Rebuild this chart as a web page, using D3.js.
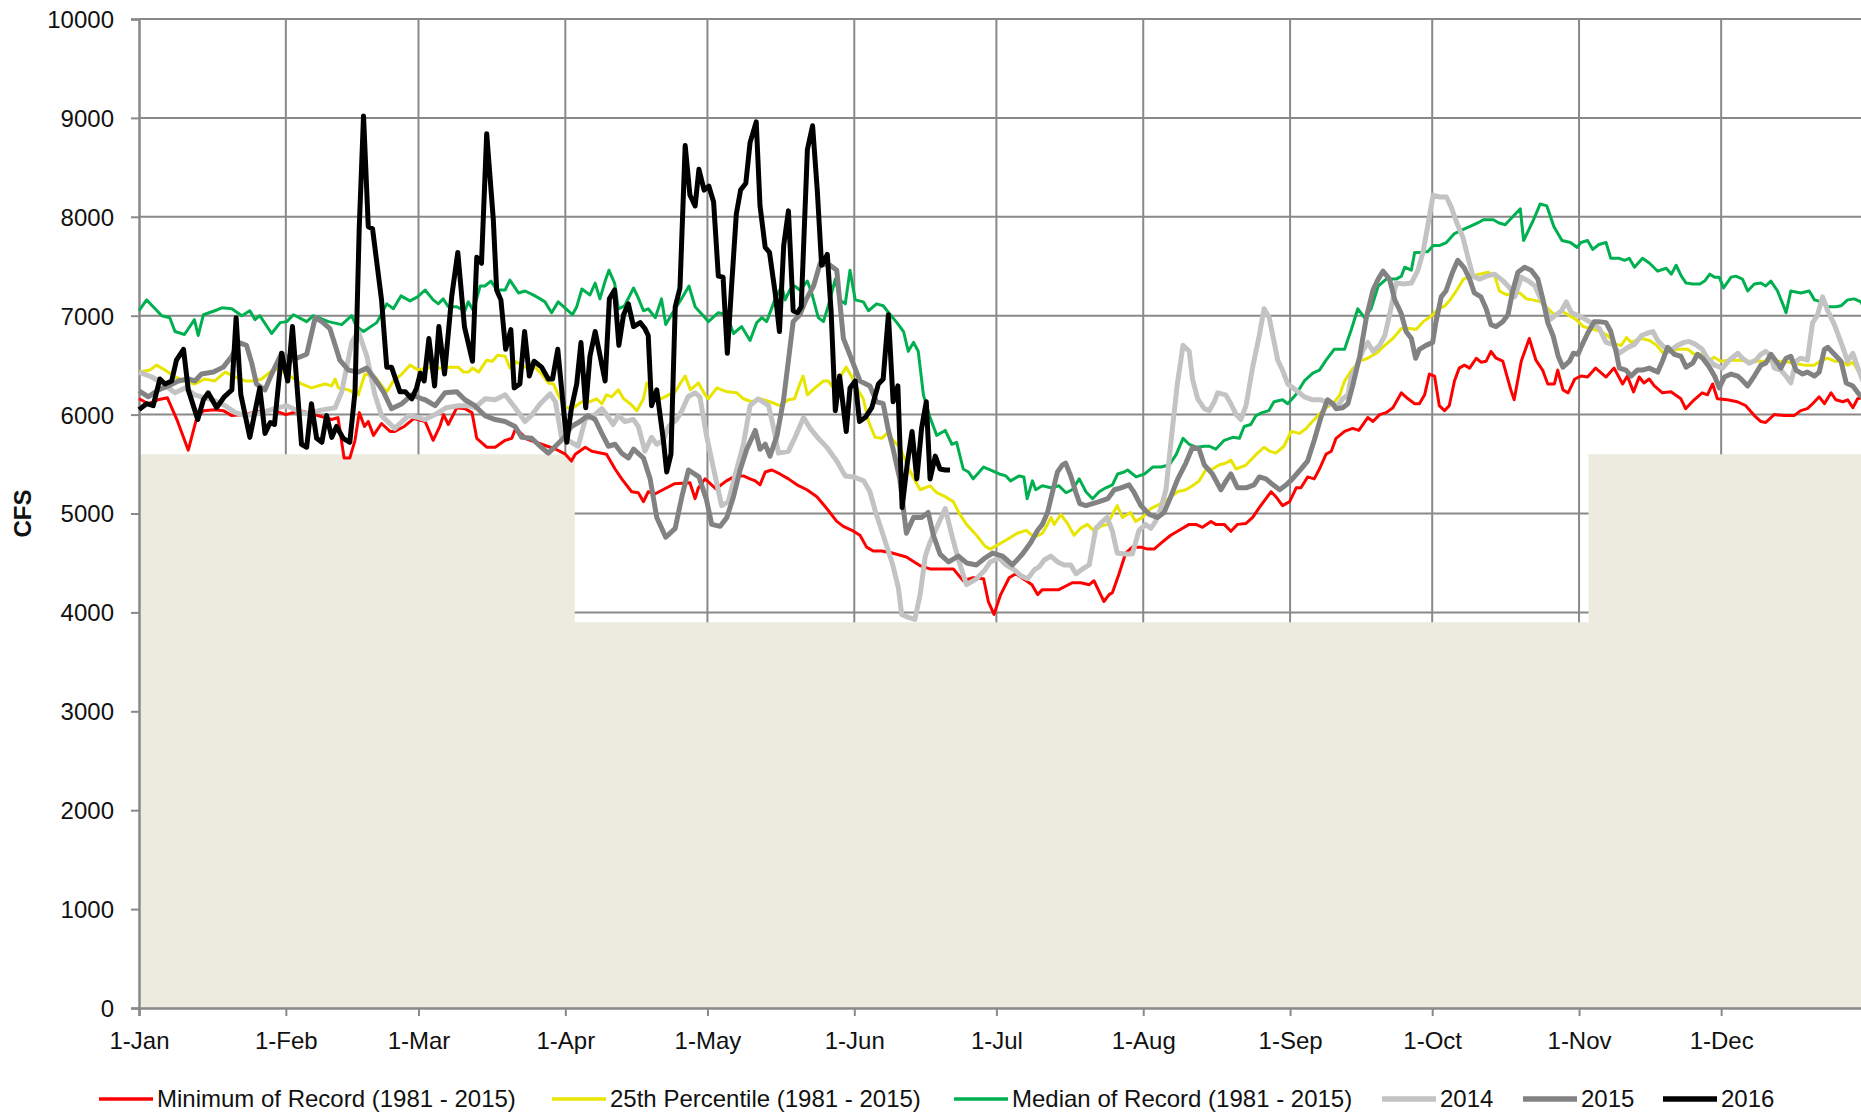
<!DOCTYPE html>
<html>
<head>
<meta charset="utf-8">
<script src="https://cdn.jsdelivr.net/npm/d3@7"></script>
<style>
  body { margin: 0; background: #fff; }
  svg text { font-family: "Liberation Sans", Arial, sans-serif; fill: #111; }
</style>
</head>
<body>
<div id="chart"></div>
<script>
// Daily flow (CFS) as [day of year, cfs] (day 0 = 1-Jan)
const minRecord = [[0,6160],[2,6110],[4,6150],[6,6170],[8,5950],[10.4,5640],[12.2,5970],[13.6,6040],[16,6050],[17.8,6040],[19.6,5990],[22,6000],[25,6030],[28,6050],[31,6000],[34,6040],[37,6000],[40.7,5950],[42,5970],[43.3,5560],[44.5,5560],[45.6,5740],[46.5,6020],[47.6,5880],[48.4,5930],[49.5,5790],[51.2,5910],[53,5830],[54,5830],[56,5880],[58,5960],[60.4,5930],[62.1,5740],[63.5,5880],[64.3,6000],[65.3,5900],[67.1,6070],[68.8,6060],[70.3,6020],[71.3,5760],[73.4,5670],[75.2,5670],[77.3,5740],[78.7,5760],[79.5,5860],[82,5750],[85,5700],[88,5650],[90,5600],[91.3,5530],[92.1,5600],[94.2,5670],[95.6,5630],[98.7,5600],[100.5,5450],[101.9,5350],[104,5220],[105.4,5210],[106.5,5120],[107.5,5220],[109,5200],[111,5250],[113,5300],[116.3,5310],[117.4,5150],[118.1,5260],[119.5,5350],[121.8,5250],[124,5330],[126,5380],[127.6,5380],[129,5350],[130.1,5330],[131.1,5290],[132.2,5420],[133.6,5440],[135.3,5400],[137.1,5350],[138.9,5290],[141,5240],[143.1,5170],[145.2,5050],[147.3,4920],[148.7,4870],[150.5,4830],[152.2,4780],[153.6,4660],[155,4620],[156.8,4620],[159,4600],[162,4560],[165,4470],[167,4440],[169.1,4440],[171.9,4440],[174,4320],[176.1,4350],[178.3,4340],[179.3,4110],[180.5,3980],[181.9,4180],[183.7,4350],[185.1,4390],[187.3,4320],[188.5,4280],[189.7,4180],[190.7,4230],[194.2,4230],[197,4300],[198.8,4300],[200.6,4280],[201.6,4320],[202.7,4210],[203.7,4110],[204.8,4180],[205.5,4200],[206.9,4390],[208.3,4600],[209.7,4660],[211.5,4660],[212.9,4640],[214.3,4640],[216,4710],[217.8,4780],[219.6,4830],[221.7,4890],[223.1,4890],[224.5,4860],[226.3,4920],[227.3,4890],[229.1,4890],[230.5,4820],[231.9,4890],[233.7,4900],[235.1,4960],[236.5,5060],[237.9,5150],[239,5220],[240,5170],[241.4,5080],[242.9,5120],[244.3,5260],[245.3,5260],[246.7,5370],[248.1,5350],[249.2,5450],[250.6,5600],[251.7,5630],[252.7,5760],[254.5,5830],[256.2,5860],[257.5,5840],[259.4,5970],[260.5,5930],[261.9,6000],[263.3,6020],[264.7,6070],[266.5,6220],[267.9,6160],[269.3,6110],[270.3,6110],[271.4,6200],[272.4,6410],[273.5,6390],[274.5,6090],[275.6,6040],[276.6,6090],[277.7,6340],[278.7,6470],[279.8,6500],[280.9,6470],[282.3,6570],[283.3,6530],[284.4,6540],[285.4,6640],[286.5,6570],[287.9,6540],[289.6,6250],[290.3,6150],[291.8,6540],[293.5,6770],[294.9,6550],[296.3,6450],[297.4,6310],[298.8,6310],[299.5,6450],[300.6,6250],[301.7,6220],[303.1,6360],[304.4,6390],[305.8,6380],[307.5,6470],[309.7,6380],[311.4,6470],[313.2,6310],[314.2,6390],[315.5,6230],[316.7,6380],[317.7,6320],[318.8,6360],[319.9,6290],[321.6,6220],[323.4,6230],[325.5,6160],[326.5,6060],[328.3,6150],[330,6220],[331.1,6200],[332.2,6310],[333.2,6160],[335.3,6150],[337.4,6130],[339.2,6090],[341,5990],[342.4,5930],[343.4,5920],[345.2,6000],[347.3,5990],[349.4,5990],[350.8,6040],[352.2,6060],[353.3,6110],[354.7,6180],[355.8,6110],[357.2,6220],[358.2,6150],[359.7,6130],[360.7,6150],[361.8,6070],[362.8,6160],[364.4,6180]];

const pct25 = [[0,6430],[2.3,6450],[3.7,6500],[5.5,6450],[7.6,6380],[9.7,6340],[11.8,6310],[13.9,6360],[16,6340],[18.2,6430],[20.3,6380],[22.4,6340],[24.1,6340],[25.9,6360],[28.7,6470],[31,6420],[34.3,6310],[36.4,6270],[39.3,6310],[40.7,6290],[41.4,6360],[42.1,6270],[44.2,6250],[46.3,6200],[47.7,6410],[49.8,6380],[52.3,6230],[53.7,6340],[55.5,6410],[57.2,6500],[59,6450],[60.4,6470],[62.1,6470],[63.5,6470],[65.3,6480],[67.4,6480],[68.5,6430],[69.6,6430],[70.4,6470],[71.7,6430],[73.4,6550],[74.6,6540],[75.7,6600],[77.3,6590],[78.3,6470],[79.4,6540],[81.5,6480],[83.6,6480],[85,6410],[86.4,6320],[87.5,6310],[88.5,6200],[89.9,6070],[91.7,6070],[93.5,6130],[95.2,6130],[96.6,6160],[97.7,6110],[98.7,6200],[99.8,6180],[101.2,6250],[102.3,6160],[103.7,6110],[105.1,6040],[106.5,6160],[107.2,6320],[108.6,6220],[110.3,6160],[111.8,6200],[113.2,6230],[114.2,6310],[115.3,6390],[116.4,6250],[118.1,6320],[119.5,6200],[120.2,6160],[122,6270],[124.1,6230],[126.2,6220],[127.6,6160],[129.3,6130],[131.1,6160],[133.2,6130],[135.3,6090],[137.1,6150],[138.4,6160],[139.5,6310],[140.2,6390],[141.1,6200],[142.7,6270],[144.5,6340],[145.5,6340],[146.6,6270],[148,6380],[149.3,6480],[150.5,6380],[151.5,6270],[152.9,6160],[154,5930],[155.4,5770],[156.8,5760],[157.9,5810],[159.2,5740],[160.6,5670],[162.5,5450],[164.9,5240],[167,5280],[168.4,5210],[170.2,5170],[171.9,5120],[173.3,4990],[174.7,4890],[176.8,4780],[178.6,4670],[179.7,4640],[183,4730],[185.4,4800],[187.3,4830],[189,4760],[190.7,4800],[191.8,4890],[192.5,4960],[193.2,4890],[194.6,4990],[196,4900],[197.4,4780],[198.8,4850],[200.2,4890],[201.7,4820],[203,4870],[204.4,4890],[206.5,5080],[207.6,4960],[209.3,5010],[210.4,4920],[211.8,4960],[213.6,5050],[215.7,5100],[217.5,5150],[219.2,5220],[221,5240],[222.4,5280],[223.8,5330],[225.2,5440],[226.6,5450],[228,5490],[229.5,5510],[230.5,5540],[231.6,5450],[233.7,5490],[235.9,5600],[237.5,5670],[238.7,5630],[240,5610],[241.7,5680],[243.2,5830],[245,5810],[246.4,5860],[247.5,5920],[248.9,5990],[250.6,6070],[252.1,6110],[253.5,6200],[254.5,6340],[256,6450],[257.7,6540],[259.4,6570],[261.2,6620],[263,6700],[264.7,6770],[266.5,6870],[268.3,6870],[269.6,6860],[271.1,6940],[272.9,7000],[274.3,7070],[275.7,7100],[276.8,7160],[278.2,7260],[279.6,7370],[281.2,7400],[283,7420],[284.8,7440],[286.2,7400],[287.2,7250],[288.7,7210],[290.1,7230],[291.5,7230],[292.9,7170],[294.2,7160],[296,7140],[297.5,7070],[298.8,7010],[300.3,7050],[302,7000],[303.4,6960],[304.9,6890],[306.5,6870],[308.6,6840],[310,6800],[311.8,6710],[312.9,6700],[314,6780],[315,6730],[317.2,6770],[318.9,6750],[320.4,6700],[321.8,6620],[323.5,6640],[324.9,6660],[327,6660],[328.3,6610],[330,6610],[331.5,6550],[332.5,6580],[333.9,6540],[335.7,6550],[337.8,6550],[339.6,6540],[341.3,6540],[343.1,6540],[345.2,6540],[347.3,6540],[349.5,6520],[351.6,6500],[353.7,6500],[355.1,6550],[356.5,6570],[357.9,6540],[359.3,6540],[360.7,6500],[361.8,6530],[362.8,6450],[364.4,6390]];

const medianRecord = [[0,7050],[1.6,7160],[3.4,7070],[4.8,7000],[6.5,6980],[7.6,6840],[9.6,6810],[11.7,6960],[12.5,6800],[13.6,7010],[16,7050],[17.5,7080],[19.6,7070],[21.7,7000],[23.4,7050],[24.5,6960],[25.5,7000],[28,6820],[29.8,6930],[31.2,6940],[32.6,7010],[35.4,6940],[36.8,7000],[40,6940],[42.8,6910],[44.9,7000],[45.9,6890],[47.4,6840],[50.2,6930],[52.3,7120],[53.7,7070],[55.3,7200],[57.2,7150],[58.8,7190],[60.4,7260],[62.1,7160],[63.2,7120],[64.2,7170],[65.3,7090],[67.1,7090],[68.8,7050],[69.5,7140],[70.6,7050],[72,7300],[73,7300],[74.3,7350],[75.5,7260],[77.3,7260],[78.3,7360],[80.1,7230],[81.5,7250],[83.2,7210],[84.7,7170],[85.7,7140],[87.1,7030],[88.5,7140],[91.5,7010],[92.4,7090],[93.5,7270],[95.2,7210],[96.3,7330],[97.3,7170],[98.4,7350],[99.2,7460],[100.4,7330],[101.2,7070],[102.5,7100],[104.4,7280],[105.3,7190],[106.5,7050],[107.5,7070],[109,6980],[110.3,7170],[111.2,6910],[112.4,7010],[114.5,7170],[116.1,7300],[117.4,7090],[119.5,6980],[120.2,6940],[122.3,7030],[124.1,7010],[125.5,6820],[127.2,6890],[129,6750],[130.4,6930],[131.5,6980],[132.5,6940],[134.3,7170],[135.7,7300],[136.4,7160],[137.4,7260],[138.4,7300],[139.5,7260],[141.1,7350],[142,7230],[143.4,6980],[144.5,6940],[145.5,7100],[147,7370],[148,7160],[149.1,7120],[150.1,7460],[151.2,7160],[152.9,7140],[154,7050],[155.7,7120],[157.1,7100],[158.6,7010],[160,6930],[161.4,6840],[162.4,6640],[163.5,6730],[164.5,6640],[165.6,6200],[167,5970],[168.4,5790],[170.2,5840],[171.6,5700],[172.6,5720],[174,5450],[175.1,5420],[176.1,5350],[178.3,5470],[179.7,5440],[181.6,5400],[183,5380],[184,5330],[185.8,5380],[186.8,5370],[187.5,5150],[188.6,5330],[189.3,5240],[190.7,5280],[192.5,5260],[194.2,5280],[195.7,5210],[197,5240],[198.5,5350],[199.9,5220],[201.3,5150],[202.7,5220],[204.1,5260],[205.5,5290],[206.6,5400],[208,5420],[208.7,5440],[210.5,5370],[212.3,5400],[214,5470],[215.7,5470],[217.5,5490],[219,5600],[220.4,5760],[221.7,5700],[223.2,5670],[224.9,5680],[226,5680],[227.3,5650],[229.1,5740],[230.9,5770],[232.3,5760],[233.3,5880],[234.7,5900],[235.8,5990],[237.1,6020],[238.5,6040],[239.6,6130],[241.4,6150],[242.5,6110],[244.2,6200],[246,6340],[247.8,6420],[249.2,6450],[250.6,6550],[252.3,6660],[254.5,6660],[256,6870],[257.3,7070],[258.7,6980],[260.1,7070],[261.6,7300],[263.3,7370],[265.4,7370],[266.5,7400],[267.2,7490],[268.6,7460],[269.3,7640],[270.4,7640],[272.1,7650],[273.2,7710],[274.6,7710],[276,7740],[277.7,7830],[279.9,7880],[280.9,7900],[282.7,7940],[283.8,7970],[285.9,7970],[287,7940],[288.4,7920],[290.2,8010],[291.6,8080],[292.3,7760],[294.4,7970],[295.8,8130],[297.2,8110],[298.7,7900],[300.4,7760],[302.2,7740],[303.6,7690],[304.4,7740],[305.8,7760],[306.9,7670],[308.2,7720],[309.7,7740],[310.7,7580],[312.5,7580],[313.6,7560],[314.6,7580],[315.7,7490],[317.4,7580],[318.9,7530],[320.6,7450],[322.4,7480],[323.5,7420],[324.5,7510],[325.6,7400],[326.6,7330],[328,7320],[329.5,7320],[330.5,7350],[331.6,7420],[332.6,7390],[333.6,7390],[334.5,7280],[336.1,7390],[337.1,7400],[338.5,7370],[339.6,7250],[341,7320],[342.4,7330],[343.4,7300],[344.5,7350],[345.9,7250],[347,7120],[347.7,7030],[348.7,7250],[350.8,7230],[352.6,7250],[353.7,7160],[355.1,7140],[356.5,7090],[358.2,7090],[359.3,7100],[360.7,7160],[362.1,7170],[363.5,7140],[364.4,7050]];

const flow2014 = [[0,6430],[2.7,6380],[4.8,6320],[7.6,6220],[9.7,6270],[11.8,6200],[13.2,6180],[15.5,6150],[18.2,6090],[20.3,6020],[22.4,5990],[25.9,6020],[28.7,6060],[31.2,6090],[33,6050],[35,6010],[37,6030],[39,6050],[41.4,6070],[42.8,6230],[44.9,6730],[46.3,6840],[48.1,6590],[49.8,6200],[51.2,5990],[54,5860],[56.9,5990],[59,5970],[60.4,5950],[62.5,6000],[64.9,6070],[67.4,6090],[69.5,6090],[70.9,6070],[73.1,6160],[75.2,6150],[77.3,6200],[79.4,6070],[81.5,5930],[83,6000],[84.7,6110],[86.8,6210],[87.9,6130],[89.2,5770],[91.3,5720],[92.7,5680],[94.2,5950],[96,5990],[97.7,6060],[98.7,6000],[100.1,5900],[101.2,5990],[102.6,5930],[104.4,5950],[105.4,5880],[106.8,5630],[108.2,5770],[109.3,5700],[110.7,5740],[111.8,5880],[113.5,5950],[114.6,6040],[115.9,6180],[117.4,6220],[118.4,6180],[119.8,5790],[121.3,5450],[123,5080],[124.4,5120],[126.2,5450],[127.6,5700],[129,6090],[130.7,6160],[132.9,6090],[133.9,5880],[135,5610],[137.1,5630],[138.5,5770],[140.3,5970],[141.7,5860],[143.4,5760],[145.2,5670],[147.3,5530],[149.1,5380],[150.9,5370],[153,5330],[154.3,5220],[155.4,5030],[157.1,4780],[159,4500],[160.3,4250],[161,3980],[162.4,3950],[163.8,3930],[164.9,4180],[166,4570],[167,4710],[168.8,4900],[170.2,5050],[171.6,4780],[173,4530],[174.7,4280],[176.8,4340],[178.6,4430],[179.7,4510],[181.6,4550],[183,4480],[184.8,4430],[186.2,4370],[187.6,4340],[189,4430],[190,4460],[191.1,4530],[192.5,4570],[193.9,4510],[195.3,4480],[196.7,4480],[197.8,4390],[199.2,4440],[200.6,4480],[202,4850],[203.4,4920],[204.4,4960],[205.5,4820],[206.5,4600],[207.9,4590],[209.7,4590],[211.1,4830],[212.5,4890],[213.6,4850],[214.6,4920],[215.7,5050],[216.8,5240],[218.2,5880],[219.2,6310],[220.4,6700],[221.7,6640],[222.4,6360],[223.5,6160],[224.9,6060],[225.9,6040],[227,6130],[227.7,6220],[229.4,6200],[230.5,6110],[231.6,6000],[232.6,5950],[233.7,6090],[235.1,6480],[236.5,6800],[237.5,7070],[238.6,6980],[240.4,6550],[241.4,6450],[242.5,6310],[244.2,6250],[246,6180],[247.8,6150],[249.5,6150],[251.3,6110],[253.1,6090],[254.1,6160],[255.2,6200],[255.9,6380],[257,6480],[258.3,6640],[259.4,6730],[260.5,6640],[261.9,6700],[263,6800],[264,7010],[265.4,7330],[266.9,7320],[268.6,7330],[270,7460],[271.1,7650],[272.1,7920],[273.2,8220],[274.6,8200],[276,8200],[277,8100],[278.1,7950],[279.5,7790],[280.6,7580],[281.6,7400],[283,7370],[284.5,7400],[286.2,7420],[288,7350],[289.4,7280],[290.4,7190],[291.8,7390],[293.3,7350],[294.7,7300],[295.7,7190],[296.8,7090],[297.8,6960],[298.9,7000],[300.3,7050],[301.3,7140],[302.4,7030],[303.4,7010],[304.7,6980],[306.5,6930],[308.3,6870],[309.7,6730],[311.1,6710],[312.5,6620],[314.3,6680],[315.7,6710],[317.2,6800],[318.2,6820],[319.6,6840],[320.6,6750],[321.6,6700],[323,6640],[324.8,6700],[326.2,6730],[327.2,6740],[328.6,6710],[330,6660],[331.1,6570],[332.6,6500],[334.3,6470],[335.7,6550],[337.5,6620],[338.5,6570],[339.9,6520],[341.3,6550],[342.4,6610],[343.4,6640],[344.5,6590],[345.2,6470],[346.6,6450],[347.7,6390],[348.7,6320],[349.8,6540],[350.8,6570],[352.2,6550],[353.3,6930],[354.3,7000],[355.4,7190],[356.5,7050],[357.9,6910],[359.3,6730],[360.7,6540],[361.8,6620],[362.8,6480],[363.9,6340],[364.4,6320]];

const flow2015 = [[0,6240],[2,6180],[4.1,6250],[6.2,6290],[8.3,6340],[10.4,6360],[11.8,6340],[13.2,6410],[15.7,6430],[17.8,6480],[19.6,6590],[21,6730],[22.7,6700],[23.8,6520],[24.8,6310],[26.6,6250],[28,6410],[30.1,6620],[32.2,6550],[35.4,6610],[37.2,6980],[38.6,6940],[40.3,6870],[42.4,6550],[44.2,6450],[46.3,6430],[48.1,6470],[49.8,6360],[51.6,6230],[53.3,6060],[55.5,6110],[57.6,6200],[59.7,6160],[60.4,6150],[62.5,6090],[64.6,6220],[67.1,6230],[68.8,6150],[70.9,6090],[73,5990],[75.2,5950],[77.3,5930],[79.4,5880],[80.8,5770],[82.9,5760],[84.7,5680],[86.4,5610],[87.9,5680],[89.6,5760],[91.3,5880],[93.1,5930],[94.8,5990],[96.3,5950],[97.7,5810],[99.1,5680],[100.5,5700],[101.9,5610],[103.3,5560],[104.4,5650],[106.5,5560],[107.9,5350],[109.3,4960],[111.2,4760],[113.2,4850],[114.6,5170],[116,5440],[118.2,5370],[119.8,5140],[120.9,4890],[122.7,4870],[124.1,4960],[125.5,5170],[126.9,5440],[128.3,5650],[130.1,5840],[131.1,5650],[132.2,5700],[133.2,5580],[134.7,5790],[136.1,6160],[137.1,6550],[138.1,6940],[139.5,7010],[140.9,7170],[142.4,7300],[143.8,7530],[145.9,7510],[147.3,7460],[148.7,6770],[150.5,6550],[152.2,6340],[154.3,6290],[155.7,6130],[157.1,6110],[158.2,5840],[159.2,5650],[160.6,5350],[162,4800],[163.5,4960],[165.2,4960],[166.6,5010],[167.7,4780],[169.1,4590],[170.9,4510],[173,4570],[174.7,4500],[176.8,4480],[178.6,4550],[180.2,4600],[182.3,4570],[184.4,4480],[186.5,4590],[188.3,4710],[189.7,4830],[190.7,4890],[191.8,5010],[192.8,5210],[193.9,5420],[194.9,5490],[195.6,5510],[196.7,5380],[197.8,5210],[198.6,5100],[199.9,5080],[201.3,5100],[202.7,5120],[204.5,5150],[205.9,5240],[207.3,5260],[209,5290],[210.1,5210],[211.5,5080],[213.3,4990],[215,4960],[216.4,5010],[217.8,5170],[219.3,5350],[221,5510],[222.4,5670],[223.8,5650],[224.9,5490],[226.6,5400],[228.4,5240],[229.5,5330],[230.5,5400],[231.9,5260],[233.7,5260],[235.4,5290],[236.5,5370],[237.9,5350],[239.4,5290],[240.8,5240],[242.2,5290],[243.5,5350],[245.3,5450],[246.7,5530],[248.1,5740],[249.5,5970],[250.9,6150],[252,6110],[252.7,6060],[254.1,6070],[255.2,6110],[256.2,6290],[257.7,6590],[259.1,6980],[260.5,7260],[261.6,7370],[262.6,7450],[264,7370],[265.1,7160],[266.4,7030],[267.5,6840],[268.6,6770],[269.5,6570],[270.3,6660],[271.7,6700],[273.1,6730],[273.8,6940],[274.9,7190],[275.9,7250],[277.3,7440],[278.4,7560],[279.8,7480],[280.9,7370],[281.9,7230],[283.3,7190],[284.4,7070],[285.4,6910],[286.5,6890],[287.9,6940],[289,7010],[290,7250],[291.1,7440],[292.5,7490],[293.9,7460],[295.3,7370],[296.4,7160],[297.4,6930],[298.5,6800],[299.6,6590],[300.6,6480],[302,6540],[302.8,6620],[303.8,6610],[304.4,6680],[305.8,6820],[307.2,6940],[308.2,6940],[309.7,6930],[310.7,6840],[311.8,6640],[312.5,6470],[313.9,6450],[315,6390],[316.3,6450],[317.4,6450],[318.8,6470],[320.6,6430],[321.6,6540],[322.7,6680],[324.1,6610],[325.5,6590],[326.6,6480],[328,6520],[329,6610],[330.1,6570],[331.5,6480],[332.6,6390],[333.6,6270],[334.7,6380],[336.1,6410],[337.5,6390],[338.2,6360],[339.6,6290],[341,6390],[342.4,6500],[343.4,6520],[344.5,6610],[345.6,6540],[346.6,6470],[347.7,6570],[348.7,6590],[349.8,6450],[351.2,6410],[352.2,6430],[353.7,6390],[354.7,6430],[355.8,6660],[356.5,6680],[357.9,6610],[359.3,6540],[360.4,6320],[361.8,6290],[363.2,6200],[364.4,6160]];

const flow2016 = [[0,6050],[1.6,6110],[3,6090],[4.4,6360],[5.5,6310],[6.9,6340],[7.9,6550],[9.4,6660],[10.4,6250],[12.4,5950],[13.6,6150],[14.6,6220],[16.4,6070],[18,6180],[19.6,6250],[20.5,6980],[21.5,6200],[23.4,5770],[25.5,6270],[26.6,5810],[27.7,5920],[28.6,5900],[30.1,6620],[31.4,6340],[32.4,6890],[34.3,5700],[35.4,5670],[36.4,6110],[37.5,5760],[38.6,5720],[39.6,5990],[40.7,5770],[41.7,5880],[43.1,5760],[44.5,5720],[45.6,6230],[46.5,7900],[47.4,9020],[48.4,7900],[49.3,7880],[51.2,7160],[52.3,6480],[53.3,6480],[55.1,6230],[56.2,6230],[57.6,6160],[58.6,6270],[59.4,6420],[60.2,6340],[61.2,6770],[62.4,6290],[63.3,6890],[64.5,6410],[66,7190],[67.3,7640],[68.7,6890],[70.4,6540],[71.3,7590],[72.3,7530],[73.4,8840],[74.8,7970],[75.5,7260],[76.4,7160],[77.4,6660],[78.5,6860],[79.2,6270],[80.4,6310],[81.4,6840],[82.4,6390],[83.4,6540],[85,6480],[86.4,6360],[87.3,6360],[88.4,6660],[90.3,5720],[91.3,6070],[92.4,6310],[93.3,6730],[94.3,6070],[95.2,6590],[96.3,6840],[98.4,6340],[99.3,7170],[100.4,7260],[101.3,6700],[102.3,7010],[103.3,7120],[104.4,6890],[105.8,6930],[106.8,6870],[107.5,6800],[108.2,6090],[109.3,6250],[110.7,5740],[111.4,5420],[112.3,5600],[113.2,7090],[114.2,7280],[115.3,8720],[116.3,8220],[117.4,8110],[118.2,8480],[119.3,8270],[120.3,8310],[121.3,8150],[122.3,7400],[123.3,7390],[124.2,6620],[125.1,7300],[126.1,8030],[127,8270],[128.1,8340],[129,8750],[130.3,8960],[131.1,8110],[132.2,7690],[133.1,7640],[134.3,7230],[135.2,6840],[136.1,7710],[137.1,8060],[138.1,7050],[139,7030],[139.8,7090],[141.1,8680],[142.2,8920],[143.2,8260],[144.1,7510],[145.3,7620],[146.1,7050],[147,6040],[147.9,6390],[149.3,5830],[150.1,6270],[151.2,6340],[152.1,5930],[153.3,5970],[154.7,6070],[156.1,6310],[157.1,6360],[158.2,7010],[159.2,6130],[160.2,6290],[161.1,5060],[162.2,5510],[163.2,5830],[164.2,5350],[165.2,5860],[166.2,6130],[167,5350],[168.1,5580],[169.1,5450],[170.2,5440],[171.2,5440]];

// Shaded band (step changes)
const bandSteps = [[0,5600],[92,3900],[306,5600],[365,5600]];

const yTicks = [0,1000,2000,3000,4000,5000,6000,7000,8000,9000,10000];
const legendLabels = ["Minimum of Record (1981 - 2015)", "25th Percentile (1981 - 2015)",
                      "Median of Record (1981 - 2015)", "2014", "2015", "2016"];
const seriesColors = ["#ff0000", "#e8e500", "#00b050", "#c3c3c3", "#828282", "#000000"];
const seriesWidths = [3, 3, 3, 5, 5, 5];
const legendX = [99, 552, 954, 1382, 1523, 1663];

// Set the dimensions and margins of the graph
const margin = {top: 19, right: 0, bottom: 104, left: 139},
      width = 1729,
      height = 989;

const svg = d3.select("#chart")
              .append("svg")
              .attr("width", 1861)
              .attr("height", 1112)
              .style("display", "block");

const g = svg.append("g")
             .attr("transform", `translate(${margin.left},${margin.top})`);

const start = Date.UTC(2015, 0, 1);
const toDate = d => new Date(start + d * 864e5);

const x = d3.scaleUtc()
            .domain([new Date(start), new Date(Date.UTC(2016, 0, 1))])
            .range([0, width]);
const y = d3.scaleLinear().domain([0, 10000]).range([height, 0]);

const months = d3.utcMonth.range(new Date(start), new Date(Date.UTC(2016, 0, 1)));
const gridColor = "#898989";

// Gridlines
g.append("g")
 .selectAll("line")
 .data(yTicks.slice(1))
 .join("line")
 .attr("x1", 0).attr("x2", width)
 .attr("y1", d => y(d)).attr("y2", d => y(d))
 .attr("stroke", gridColor).attr("stroke-width", 2);

g.append("g")
 .selectAll("line")
 .data(months.slice(1))
 .join("line")
 .attr("x1", d => x(d)).attr("x2", d => x(d))
 .attr("y1", 0).attr("y2", height)
 .attr("stroke", gridColor).attr("stroke-width", 2);

// Shaded band
const band = d3.area()
               .curve(d3.curveStepAfter)
               .x(d => x(toDate(d[0])))
               .y0(y(0))
               .y1(d => y(d[1]));

g.append("path")
 .datum(bandSteps)
 .attr("d", band)
 .attr("fill", "#edeae0");

// Axes
const yAxis = g.append("g")
               .call(d3.axisLeft(y).tickValues(yTicks).tickFormat(d3.format("d"))
                       .tickSize(8).tickPadding(17));
const xAxis = g.append("g")
               .attr("transform", `translate(0,${height})`)
               .call(d3.axisBottom(x).tickValues(months).tickFormat(d3.utcFormat("%-d-%b"))
                       .tickSize(8).tickPadding(10));

[yAxis, xAxis].forEach(ax => {
  ax.select(".domain").attr("stroke", gridColor).attr("stroke-width", 2.5);
  ax.selectAll(".tick line").attr("stroke", gridColor).attr("stroke-width", 2);
  ax.selectAll(".tick text").style("font-size", "24px").attr("fill", "#111");
});
yAxis.selectAll(".tick text").attr("dy", "0.35em");
xAxis.selectAll(".tick text").attr("dy", "0.95em");

// Series lines
const line = d3.line()
               .x(d => x(toDate(d[0])))
               .y(d => y(d[1]));

const series = [minRecord, pct25, medianRecord, flow2014, flow2015, flow2016];
series.forEach((s, i) => {
  g.append("path")
   .datum(s)
   .attr("d", line)
   .attr("fill", "none")
   .attr("stroke", seriesColors[i])
   .attr("stroke-width", seriesWidths[i])
   .attr("stroke-linejoin", "round");
});

// Y axis title
svg.append("text")
   .attr("transform", `translate(31,${margin.top + height / 2}) rotate(-90)`)
   .attr("text-anchor", "middle")
   .style("font-family", "'Liberation Sans Narrow', 'Liberation Sans', Arial, sans-serif")
   .style("font-weight", "bold")
   .style("font-size", "24px")
   .text("CFS");

// Legend
const legend = svg.append("g").attr("transform", "translate(0,1099)");
legendLabels.forEach((label, i) => {
  legend.append("line")
        .attr("x1", legendX[i]).attr("x2", legendX[i] + 54)
        .attr("y1", 0).attr("y2", 0)
        .attr("stroke", seriesColors[i])
        .attr("stroke-width", i < 3 ? 3.5 : 5.5);
  legend.append("text")
        .attr("x", legendX[i] + 58)
        .attr("y", 8)
        .style("font-size", "24px")
        .text(label);
});
</script>
</body>
</html>
